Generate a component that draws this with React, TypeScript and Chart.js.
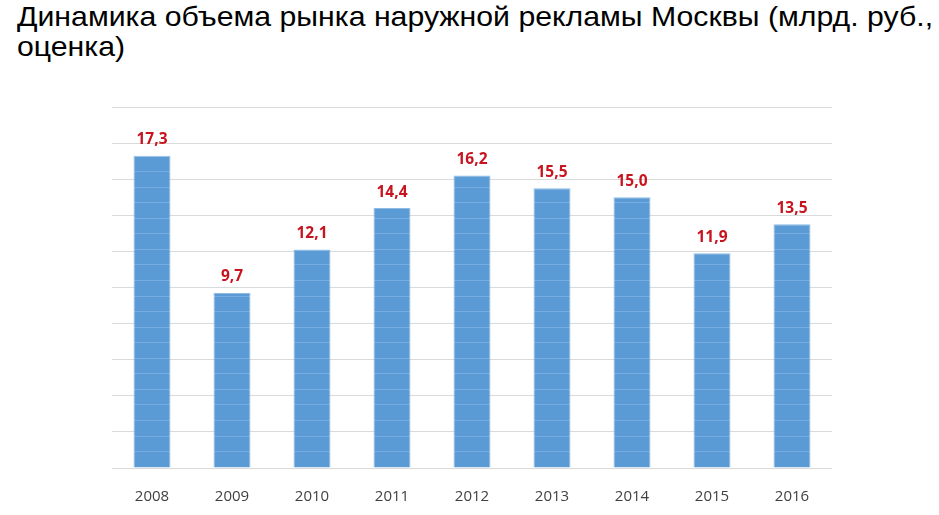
import React, { useEffect, useRef } from "react";
import { Chart, registerables } from "chart.js";

Chart.register(...registerables);

const TITLE_LINE_1 = "Динамика объема рынка наружной рекламы Москвы (млрд. руб.,";
const TITLE_LINE_2 = "оценка)";
const YEARS = ["2008", "2009", "2010", "2011", "2012", "2013", "2014", "2015", "2016"];
const VALUES = [17.3, 9.7, 12.1, 14.4, 16.2, 15.5, 15.0, 11.9, 13.5];
const Y_MIN = 0;
const Y_MAX = 20;
const Y_STEP = 2;

function makeBarPattern(): CanvasPattern | string {
  const c = document.createElement("canvas");
  c.width = 4;
  c.height = 140;
  const g = c.getContext("2d");
  if (!g) return "#5b9bd5";
  g.fillStyle = "#5b9bd5";
  g.fillRect(0, 0, 4, 140);
  g.fillStyle = "rgba(160,200,236,0.4)";
  for (let k = 0; k < 9; k++) {
    const y = Math.round(k * 15.556);
    g.fillRect(0, y, 4, 1);
  }
  const p = g.createPattern(c, "repeat");
  return p || "#5b9bd5";
}

const labelPlugin = {
  id: "valueLabels",
  afterDatasetsDraw(chart: any) {
    const ctx = chart.ctx;
    const meta = chart.getDatasetMeta(0);
    ctx.save();
    ctx.font = "bold 15.5px 'Open Sans'";
    ctx.fillStyle = "#c8141e";
    ctx.textAlign = "center";
    ctx.textBaseline = "alphabetic";
    meta.data.forEach((bar: any, i: number) => {
      const txt = VALUES[i].toFixed(1).replace(".", ",");
      ctx.fillText(txt, bar.x, bar.y - 11.5);
    });
    ctx.restore();
  },
};

export default function App() {
  const ref = useRef<HTMLCanvasElement | null>(null);
  useEffect(() => {
    if (!ref.current) return;
    const chart = new Chart(ref.current, {
      type: "bar",
      data: {
        labels: YEARS,
        datasets: [
          {
            data: VALUES,
            backgroundColor: makeBarPattern() as any,
            borderColor: "#8fbbe4",
            borderWidth: 1,
            categoryPercentage: 1,
            barPercentage: 0.4625,
          },
        ],
      },
      options: {
        animation: false,
        responsive: false,
        maintainAspectRatio: false,
        layout: { padding: { left: 112, right: 107, top: 107, bottom: 0 } },
        plugins: { legend: { display: false }, tooltip: { enabled: false } },
        scales: {
          x: {
            grid: { display: false, drawTicks: false },
            border: { display: false },
            ticks: { color: "#404040", font: { family: "'Open Sans'", size: 15 }, padding: 20 },
            afterFit: (scale: any) => {
              scale.height = 47;
            },
          },
          y: {
            min: Y_MIN,
            max: Y_MAX,
            ticks: { display: false, stepSize: Y_STEP },
            border: { display: false },
            grid: { color: "#dadada", drawTicks: false },
          },
        },
      },
      plugins: [labelPlugin],
    });
    return () => chart.destroy();
  }, []);
  return (
    <div style={{ position: "absolute", left: 0, top: 0, width: 939, height: 515, background: "#fff" }}>
      <div
        style={{
          position: "absolute",
          left: 17,
          top: 2,
          fontFamily: "'Liberation Sans', Arial, sans-serif",
          fontSize: 28,
          lineHeight: "30px",
          color: "#000",
          whiteSpace: "nowrap",
          transform: "scaleX(1.08)",
          transformOrigin: "left top",
        }}
      >
        {TITLE_LINE_1}
        <br />
        {TITLE_LINE_2}
      </div>
      <canvas ref={ref} width={939} height={515} style={{ position: "absolute", left: 0, top: 0 }} />
    </div>
  );
}
